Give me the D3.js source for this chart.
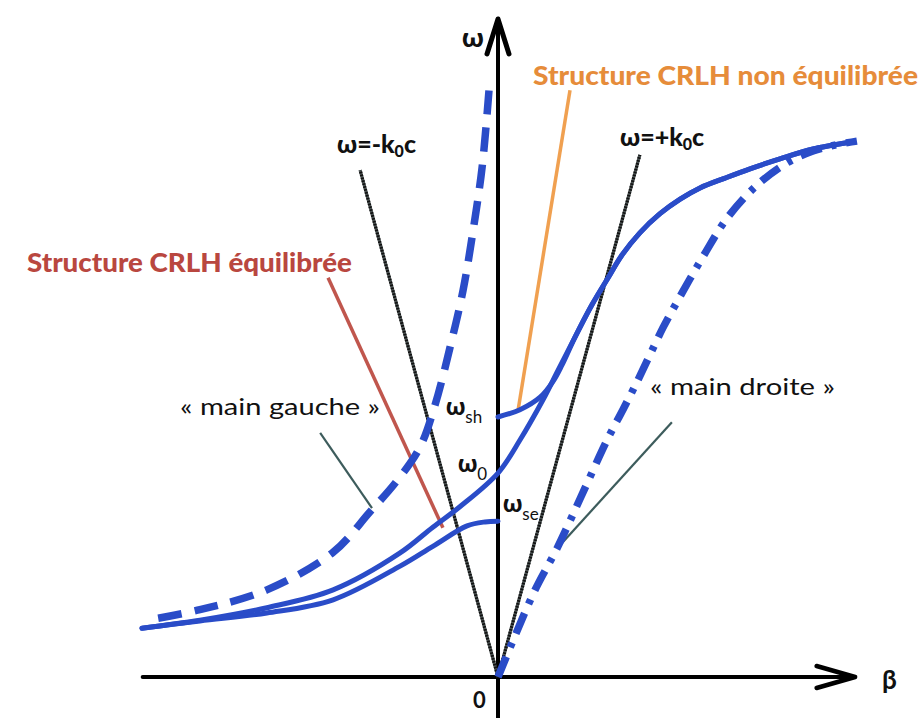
<!DOCTYPE html>
<html>
<head>
<meta charset="utf-8">
<script src="https://cdn.jsdelivr.net/npm/d3@7"></script>
<style>
  html, body { margin: 0; padding: 0; background: #fff; }
  svg { display: block; }
</style>
</head>
<body>
<svg id="chart" width="920" height="718"></svg>
<script>
// ---- data (β normalised, ω normalised) ----
const crlhBalanced = [
  [-0.989, 0.074], [-0.828, 0.086], [-0.642, 0.105], [-0.458, 0.132],
  [-0.272, 0.188], [-0.181, 0.227], [-0.106, 0.258], [0.000, 0.309],
  [0.061, 0.359], [0.125, 0.420], [0.167, 0.465], [0.214, 0.515],
  [0.261, 0.564], [0.306, 0.605], [0.344, 0.639], [0.394, 0.673],
  [0.450, 0.702], [0.506, 0.724], [0.561, 0.741], [0.631, 0.756],
  [0.700, 0.770], [0.783, 0.785], [0.875, 0.800], [0.986, 0.811]
];
const crlhUnbalancedLow = [
  [-0.989, 0.074], [-0.828, 0.085], [-0.642, 0.097], [-0.458, 0.117],
  [-0.272, 0.168], [-0.181, 0.198], [-0.086, 0.229], [-0.036, 0.235],
  [0.000, 0.236]
];
const crlhUnbalancedHigh = [
  [0.000, 0.394], [0.061, 0.405], [0.117, 0.424], [0.153, 0.448],
  [0.178, 0.473], [0.214, 0.515], [0.261, 0.564], [0.306, 0.605],
  [0.344, 0.639], [0.394, 0.673], [0.450, 0.702], [0.506, 0.724],
  [0.561, 0.741], [0.631, 0.756], [0.700, 0.770], [0.783, 0.785],
  [0.875, 0.800], [0.986, 0.811]
];
const leftHanded = [
  [-0.944, 0.089], [-0.828, 0.102], [-0.642, 0.132], [-0.458, 0.189],
  [-0.356, 0.250], [-0.281, 0.297], [-0.217, 0.348], [-0.175, 0.412],
  [-0.133, 0.500], [-0.097, 0.586], [-0.069, 0.677], [-0.044, 0.773],
  [-0.025, 0.889]
];
const rightHanded = [
  [0.000, 0.000], [0.047, 0.062], [0.103, 0.132], [0.164, 0.195],
  [0.228, 0.270], [0.303, 0.359], [0.347, 0.405], [0.386, 0.447],
  [0.422, 0.488], [0.458, 0.529], [0.497, 0.568], [0.533, 0.603],
  [0.575, 0.642], [0.636, 0.695], [0.719, 0.745], [0.803, 0.779],
  [0.875, 0.797], [0.936, 0.806], [0.997, 0.812]
];
const lightLineMinus = [[0, 0], [-0.383, 0.768]];
const lightLinePlus  = [[0, 0], [0.394, 0.791]];
const pointerOrange  = [[0.200, 0.889], [0.056, 0.405]];
const pointerRed     = [[-0.472, 0.605], [-0.153, 0.226]];
const pointerGauche  = [[-0.494, 0.370], [-0.350, 0.256]];
const pointerDroite  = [[0.483, 0.386], [0.178, 0.203]];

const labelNonEq   = "Structure CRLH non équilibrée";
const labelEq      = "Structure CRLH équilibrée";
const labelGauche  = "« main gauche »";
const labelDroite  = "« main droite »";

// ---- scales ----
const svg = d3.select("#chart");
const x = d3.scaleLinear().domain([-1, 1]).range([138, 858]);
const y = d3.scaleLinear().domain([0, 1]).range([677, 17]);

const blue = "#2a4cc8";
const line = d3.line().x(d => x(d[0])).y(d => y(d[1])).curve(d3.curveCatmullRom.alpha(0.5));
const seg = d3.line().x(d => x(d[0])).y(d => y(d[1]));

// ---- axes ----
const axG = svg.append("g").attr("stroke", "#000").attr("fill", "none")
  .attr("stroke-linecap", "round").attr("stroke-linejoin", "round");
axG.append("line").attr("x1", x(-0.987)).attr("x2", x(0.992))
  .attr("y1", y(0)).attr("y2", y(0)).attr("stroke-width", 4);
axG.append("path").attr("d", `M${x(0.885)},${y(0)-11}L${x(0.992)},${y(0)}L${x(0.885)},${y(0)+11}`)
  .attr("stroke-width", 4.5);
axG.append("line").attr("x1", x(0)).attr("x2", x(0))
  .attr("y1", 718).attr("y2", y(0.997)).attr("stroke-width", 4);
axG.append("path").attr("d", `M${x(0)-11},${y(0.944)}L${x(0)},${y(0.997)}L${x(0)+11},${y(0.944)}`)
  .attr("stroke-width", 5);

// ---- light lines ----
[lightLineMinus, lightLinePlus].forEach(l => {
  svg.append("path").attr("d", seg(l)).attr("fill", "none")
    .attr("stroke", "#4a5252").attr("stroke-width", 3.2);
  svg.append("path").attr("d", seg(l)).attr("fill", "none")
    .attr("stroke", "#111").attr("stroke-width", 3.2)
    .attr("stroke-dasharray", "1.6,1.4");
});

// ---- pointer lines ----
svg.append("path").attr("d", seg(pointerOrange)).attr("stroke", "#f0a050").attr("stroke-width", 3.5).attr("fill", "none");
svg.append("path").attr("d", seg(pointerRed)).attr("stroke", "#c0564d").attr("stroke-width", 3.5).attr("fill", "none");
[pointerGauche, pointerDroite].forEach(p => {
  svg.append("path").attr("d", seg(p)).attr("stroke", "#3d5c5c").attr("stroke-width", 2.2).attr("fill", "none");
});

// ---- curves ----
svg.append("path").attr("d", line(crlhUnbalancedLow)).attr("fill", "none")
  .attr("stroke", blue).attr("stroke-width", 5).attr("stroke-linecap", "round");
svg.append("path").attr("d", line(crlhBalanced)).attr("fill", "none")
  .attr("stroke", blue).attr("stroke-width", 5).attr("stroke-linecap", "round");
svg.append("path").attr("d", line(crlhUnbalancedHigh)).attr("fill", "none")
  .attr("stroke", blue).attr("stroke-width", 5).attr("stroke-linecap", "round");
svg.append("path").attr("d", line(leftHanded)).attr("fill", "none")
  .attr("stroke", blue).attr("stroke-width", 7.5).attr("stroke-dasharray", "24,13");
svg.append("path").attr("d", line(rightHanded)).attr("fill", "none")
  .attr("stroke", blue).attr("stroke-width", 7.5).attr("stroke-dasharray", "22,10,5,10");

// ---- texts ----
const font = "Lato, 'Open Sans', sans-serif";
function txt(px, py, s, size, weight, fill, len) {
  const t = svg.append("text").attr("x", px).attr("y", py).text(s)
    .attr("font-family", font).attr("font-size", size).attr("font-weight", weight).attr("fill", fill);
  if (len) t.attr("textLength", len).attr("lengthAdjust", "spacingAndGlyphs");
  return t;
}
txt(533, 85, labelNonEq, 26, 900, "#e68c3a", 385);
txt(27, 272, labelEq, 26, 900, "#b9473f", 325);
txt(180, 415, labelGauche, 24, "normal", "#111", 200);
txt(650, 395, labelDroite, 24, "normal", "#111", 185);

// ω = ±k0c
function kLabel(px, py, sign) {
  const t = svg.append("text").attr("x", px).attr("y", py)
    .attr("font-family", font).attr("font-size", 25).attr("font-weight", 900).attr("fill", "#111");
  t.append("tspan").text("ω=" + sign + "k");
  t.append("tspan").text("0").attr("font-size", 16).attr("dy", 4);
  t.append("tspan").text("c").attr("dy", -4);
}
kLabel(337, 153, "-");
kLabel(620, 146, "+");

// axis labels
txt(462, 47, "ω", 27, 900, "#111");
txt(473, 708, "0", 22, "bold", "#111");
txt(882, 689, "β", 26, "bold", "#111");

// ω subscripts
function wLabel(px, py, sub) {
  const t = svg.append("text").attr("x", px).attr("y", py)
    .attr("font-family", font).attr("font-size", 24).attr("font-weight", 900).attr("fill", "#111");
  t.append("tspan").text("ω");
  t.append("tspan").text(sub).attr("font-size", 17).attr("font-weight", "normal").attr("dy", 8);
}
wLabel(446, 415, "sh");
wLabel(458, 472, "0");
wLabel(503, 512, "se");
</script>
</body>
</html>
